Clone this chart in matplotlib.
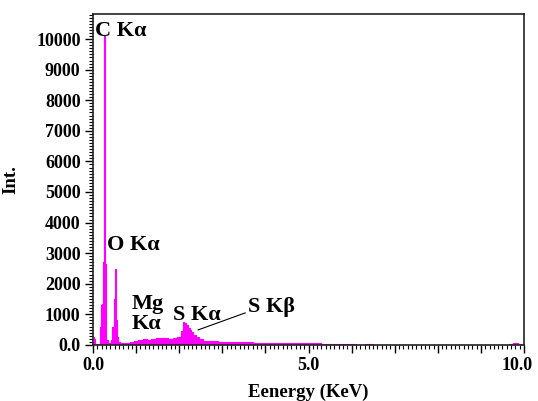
import matplotlib
matplotlib.use("Agg")
import matplotlib.pyplot as plt
import matplotlib.transforms as mtransforms
from matplotlib.ticker import MultipleLocator, FuncFormatter

# EDS spectrum (energy in keV, counts)
energy = [0.00, 0.02, 0.04, 0.06, 0.10, 0.14, 0.16, 0.18, 0.20, 0.22, 0.24, 0.26,
          0.28, 0.30, 0.32, 0.36, 0.40, 0.44, 0.46, 0.48, 0.50, 0.52, 0.54, 0.56,
          0.60, 0.66, 0.72, 0.80, 0.90, 1.00, 1.10, 1.20, 1.30, 1.40, 1.50, 1.60,
          1.70, 1.80, 1.90, 2.00, 2.06, 2.10, 2.14, 2.18, 2.22, 2.26, 2.30, 2.36,
          2.42, 2.50, 2.60, 2.70, 2.80, 3.00, 3.20, 3.40, 3.60, 3.80, 4.00, 4.20,
          4.40, 4.60, 4.80, 5.00, 5.20, 5.40, 5.60, 5.80, 6.00, 6.20, 6.40, 6.60,
          7.00, 8.00, 9.00, 9.60, 9.70, 9.80, 9.90, 10.00]
counts = [0, 250, 180, 30, 20, 40, 200, 600, 1300, 1350, 2700, 10100,
          2650, 500, 150, 60, 70, 150, 590, 600, 1500, 2480, 800, 250,
          80, 50, 60, 70, 90, 120, 150, 190, 170, 200, 220, 210,
          240, 200, 230, 250, 450, 760, 720, 640, 560, 480, 420, 330,
          250, 180, 140, 120, 110, 100, 90, 85, 80, 75, 70, 65,
          60, 55, 60, 50, 45, 40, 30, 20, 15, 10, 20, 10,
          5, 5, 5, 10, 40, 45, 20, 0]

# peak labels: text, top-left anchor (keV, counts)
peak_text = ["C K\u03b1", "O K\u03b1", "Mg\nK\u03b1", "S K\u03b1", "S K\u03b2"]
peak_pos = [(0.04, 10600), (0.32, 3580), (0.90, 1650), (1.86, 1320), (3.60, 1580)]

plt.rcParams['font.family'] = ['Liberation Serif', 'DejaVu Serif']
plt.rcParams['font.weight'] = 'bold'

fig = plt.figure(figsize=(5.38, 4.01), dpi=100)
ax = fig.add_axes([0.173, 0.140, 0.801, 0.825])

ax.fill_between(energy, counts, 0, step='mid', color='#ff00ff', linewidth=0)
ax.step(energy, counts, where='mid', color='#ff00ff', linewidth=0.8)

ax.set_xlim(0, 10.0)
ax.set_ylim(0, 10820)

ax.xaxis.set_major_locator(MultipleLocator(1))
ax.xaxis.set_minor_locator(MultipleLocator(0.1))
ax.xaxis.set_major_formatter(FuncFormatter(
    lambda v, p: f"{v:.1f}" if abs(v % 5) < 1e-6 or abs(v % 5 - 5) < 1e-6 else ""))
ax.yaxis.set_major_locator(MultipleLocator(1000))
ax.yaxis.set_minor_locator(MultipleLocator(100))
ax.yaxis.set_major_formatter(FuncFormatter(
    lambda v, p: "0.0" if v == 0 else f"{int(v)}"))

ax.tick_params(which='major', direction='out', length=6, width=1.0,
               labelsize=13, pad=3)
ax.tick_params(which='minor', direction='out', length=3, width=0.8)
ax.tick_params(top=False, right=False)
for lab in ax.get_xticklabels() + ax.get_yticklabels():
    lab.set_fontweight('bold')
for s in ax.spines.values():
    s.set_linewidth(1.2)
    s.set_color('#222222')

# nudge the "10.0" label left so it stays inside the figure
shift = mtransforms.ScaledTranslation(-5 / 72, 0, fig.dpi_scale_trans)
for tick in ax.xaxis.get_major_ticks():
    if abs(tick.get_loc() - 10) < 1e-6:
        tick.label1.set_transform(tick.label1.get_transform() + shift)

ax.set_xlabel("Eenergy (KeV)", fontsize=13.5, fontweight='bold', labelpad=7)
ax.set_ylabel("Int.", fontsize=13.5, fontweight='bold', labelpad=12)

for t, (x, y) in zip(peak_text, peak_pos):
    ax.text(x, y, t, fontsize=16, fontweight='bold', ha='left', va='top',
            linespacing=1.0)

# leader line for S Kbeta
ax.plot([2.44, 3.53], [490, 1045], color='black', linewidth=0.8)

fig.savefig("out.png", dpi=100)
